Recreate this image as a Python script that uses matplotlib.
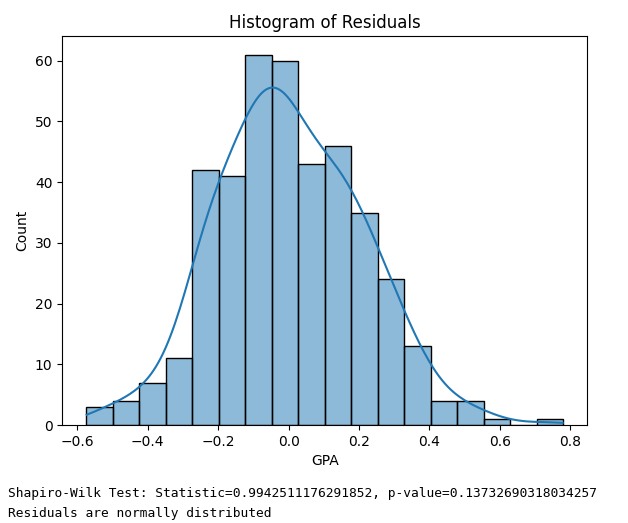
import matplotlib
matplotlib.use("Agg")
import matplotlib.pyplot as plt
import numpy as np
import seaborn as sns

# histogram of residuals
bin_lo = -0.575
bin_hi = 0.78
counts = [3, 4, 7, 11, 42, 41, 61, 60, 43, 46, 35, 24, 13, 4, 4, 1, 0, 1]
stat_line = "Shapiro-Wilk Test: Statistic=0.9942511176291852, p-value=0.13732690318034257"
verdict_line = "Residuals are normally distributed"

edges = np.linspace(bin_lo, bin_hi, len(counts) + 1)
centers = (edges[:-1] + edges[1:]) / 2
residuals = np.repeat(centers, counts)

fig = plt.figure(figsize=(6.28, 5.23), dpi=100)
ax = fig.add_axes([0.099, 0.187, 0.836, 0.744])

sns.histplot(x=residuals, bins=edges, kde=True, ax=ax,
             kde_kws={"bw_adjust": 1.15, "cut": 0.5},
             line_kws={"linewidth": 1.5})
ax.set_title("Histogram of Residuals")
ax.set_xlabel("GPA")
ax.set_ylabel("Count")
ax.set_yticks(np.arange(0, 70, 10))

fig.text(0.013, 0.057, stat_line, family="DejaVu Sans Mono", fontsize=9.3,
         va="center")
fig.text(0.013, 0.019, verdict_line, family="DejaVu Sans Mono", fontsize=9.3,
         va="center")

fig.savefig("out.png", dpi=100)
